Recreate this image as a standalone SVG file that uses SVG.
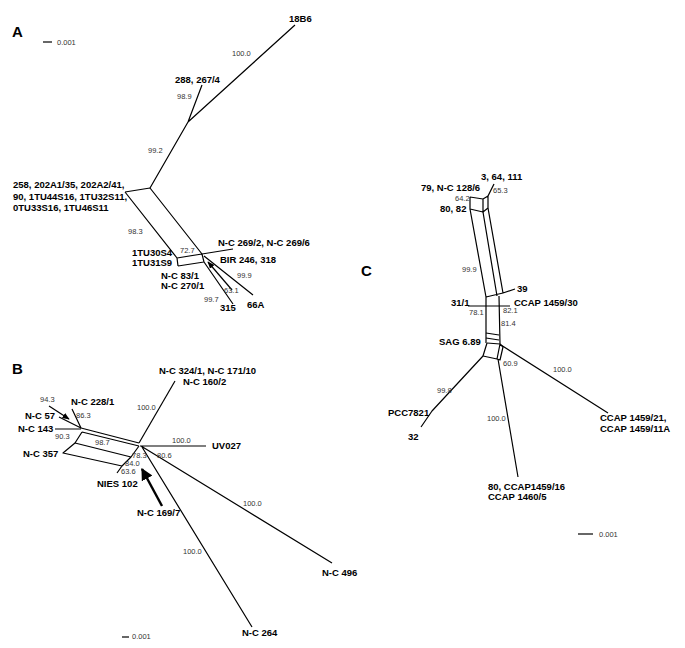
<svg xmlns="http://www.w3.org/2000/svg" width="685" height="648" viewBox="0 0 685 648">
<style>
.e{stroke:#000;stroke-width:1.2;fill:none;stroke-linejoin:round}
.lb{font-family:"Liberation Sans",Arial,sans-serif;font-weight:bold;font-size:9.5px;fill:#000}
.n{font-family:"Liberation Sans",Arial,sans-serif;font-size:7.5px;fill:#333}
.p{font-family:"Liberation Sans",Arial,sans-serif;font-weight:bold;font-size:15px;fill:#000}
</style>
<defs>
<marker id="ah" viewBox="0 0 10 10" refX="9" refY="5" markerWidth="6" markerHeight="6" orient="auto"><path d="M0,1 L10,5 L0,9 z" fill="#000"/></marker>
<marker id="ahb" viewBox="0 0 10 10" refX="9" refY="5" markerWidth="5" markerHeight="5" orient="auto"><path d="M0,0 L10,5 L0,10 z" fill="#000"/></marker>
</defs>
<rect width="685" height="648" fill="#fff"/>

<!-- Panel A -->
<g id="panelA">
<text class="p" x="12" y="37">A</text>
<g id="scaleA"><line class="e" x1="43" y1="42" x2="52" y2="42"/><text class="n" x="57" y="45">0.001</text></g>
<g id="connectorsA">
<path class="e" d="M295,25 L188,122 M202,85 L188,122 M188,122 L150,188"/>
<path class="e" d="M150,188 L125,192 M150,188 L202,254 M125,192 L177,258 M177,258 L202,254 M177,258 L178,266 M178,266 L204,262 M202,254 L204,262"/>
<path class="e" d="M202,254 L233,249 M204,256 L253,295 M204,262 L233,304"/>
<line class="e" x1="232" y1="290" x2="208" y2="262" marker-end="url(#ah)"/>
</g>
<g id="n18B6"><text class="lb" x="289" y="22">18B6</text><text class="n" x="232" y="56">100.0</text></g>
<g id="n288"><text class="lb" x="175" y="83">288, 267/4</text><text class="n" x="177" y="99">98.9</text></g>
<text class="n" x="148" y="153">99.2</text>
<g id="n258"><text class="lb" x="13" y="188">258, 202A1/35, 202A2/41,</text><text class="lb" x="13" y="199.5">90, 1TU44S16, 1TU32S11,</text><text class="lb" x="13" y="210.5">0TU33S16, 1TU46S11</text></g>
<text class="n" x="128" y="234">98.3</text>
<g id="n1TU"><text class="lb" x="132" y="256">1TU30S4</text><text class="lb" x="132" y="266">1TU31S9</text></g>
<text class="n" x="180" y="253">72.7</text>
<g id="nNC269"><text class="lb" x="218" y="246">N-C 269/2, N-C 269/6</text></g>
<g id="nBIR"><text class="lb" x="220" y="263">BIR 246, 318</text></g>
<g id="nNC83"><text class="lb" x="161" y="279">N-C 83/1</text><text class="lb" x="161" y="289">N-C 270/1</text></g>
<text class="n" x="237" y="278">99.9</text>
<text class="n" x="224" y="293">63.1</text>
<text class="n" x="204" y="302">99.7</text>
<g id="n315"><text class="lb" x="220" y="311">315</text></g>
<g id="n66A"><text class="lb" x="247" y="308">66A</text></g>
</g>

<!-- Panel B -->
<g id="panelB">
<text class="p" x="12" y="374">B</text>
<g id="connectorsB">
<path class="e" d="M175,381 L139,443"/>
<line class="e" x1="49" y1="406" x2="69" y2="419" marker-end="url(#ah)"/>
<path class="e" d="M72,409 L81,428 M59,417 L81,428 M55,429 L81,429"/>
<path class="e" d="M81,428 L139,443 M82,432 L139,446 M82,432 L75,443 M75,443 L131,457 L139,446 M75,443 L63,453 L122,466 L131,457 M122,466 L117,473"/>
<path class="e" d="M140,446 L206,446 M141,446 L332,563 M142,447 L252,627"/>
<line x1="162" y1="506" x2="142" y2="469" stroke="#000" stroke-width="2.4" marker-end="url(#ahb)"/>
</g>
<g id="nNC324"><text class="lb" x="159" y="374">N-C 324/1, N-C 171/10</text><text class="lb" x="183" y="385">N-C 160/2</text><text class="n" x="137" y="410">100.0</text></g>
<text class="n" x="40" y="402">94.3</text>
<g id="nNC228"><text class="lb" x="71" y="405">N-C 228/1</text><text class="n" x="76" y="418">86.3</text></g>
<g id="nNC57"><text class="lb" x="25" y="419">N-C 57</text></g>
<g id="nNC143"><text class="lb" x="18" y="432">N-C 143</text><text class="n" x="55" y="439">90.3</text></g>
<text class="n" x="95" y="445">98.7</text>
<g id="nUV027"><text class="lb" x="212" y="449">UV027</text><text class="n" x="172" y="443">100.0</text></g>
<g id="nNC357"><text class="lb" x="23" y="457">N-C 357</text></g>
<text class="n" x="132" y="458">78.3</text>
<text class="n" x="157" y="458">80.6</text>
<text class="n" x="125" y="466">84.0</text>
<text class="n" x="121" y="474">63.6</text>
<g id="nNIES"><text class="lb" x="97" y="487">NIES 102</text></g>
<g id="nNC169"><text class="lb" x="137" y="516">N-C 169/7</text></g>
<g id="nNC496"><text class="n" x="243" y="506">100.0</text><text class="lb" x="322" y="576">N-C 496</text></g>
<g id="nNC264"><text class="n" x="183" y="554">100.0</text><text class="lb" x="242" y="636">N-C 264</text></g>
<g id="scaleB"><line class="e" x1="122" y1="637" x2="129" y2="637"/><text class="n" x="132" y="639">0.001</text></g>
</g>

<!-- Panel C -->
<g id="panelC">
<text class="p" x="361" y="276">C</text>
<g id="connectorsC">
<path class="e" d="M494,184 L488,196"/>
<path class="e" d="M470,197 L483,199 L488,196 M470,197 L470,209 M483,199 L483,212 M488,196 L488,208 M470,209 L483,212 L488,208"/>
<path class="e" d="M470,209 L486,297 M483,212 L497,296 M488,208 L503,293 M486,297 L503,293 L515,289"/>
<path class="e" d="M486,297 L486,343 M499,296 L500,344 M468,306 L510,306"/>
<path class="e" d="M486,333 L499,335 M486,338 L499,340 M487,343 L500,344"/>
<path class="e" d="M487,343 L483,356 L497,359 L500,344 M500,344 L503,347 L500,360 L497,359"/>
<path class="e" d="M501,345 L608,413 M483,356 L432,411 L421,427 M498,359 L518,477"/>
</g>
<g id="n3"><text class="lb" x="481" y="180">3, 64, 111</text><text class="n" x="493" y="193">65.3</text></g>
<g id="n79"><text class="lb" x="421" y="191">79, N-C 128/6</text><text class="n" x="455" y="201">64.2</text></g>
<g id="n80"><text class="lb" x="440" y="212">80, 82</text></g>
<text class="n" x="462" y="272">99.9</text>
<g id="n39"><text class="lb" x="517" y="292">39</text></g>
<g id="n31"><text class="lb" x="451" y="306">31/1</text><text class="n" x="469" y="315">78.1</text></g>
<g id="nCCAP30"><text class="lb" x="514" y="306">CCAP 1459/30</text><text class="n" x="503" y="313">82.1</text></g>
<text class="n" x="501" y="326">81.4</text>
<g id="nSAG"><text class="lb" x="439" y="345">SAG 6.89</text></g>
<text class="n" x="503" y="366">60.9</text>
<g id="nCCAP21"><text class="n" x="553" y="372">100.0</text><text class="lb" x="600" y="421">CCAP 1459/21,</text><text class="lb" x="600" y="432">CCAP 1459/11A</text></g>
<g id="nPCC"><text class="n" x="437" y="393">99.8</text><text class="lb" x="388" y="416">PCC7821</text><text class="lb" x="408" y="440">32</text></g>
<g id="nCCAP16"><text class="n" x="487" y="421">100.0</text><text class="lb" x="488" y="490">80, CCAP1459/16</text><text class="lb" x="488" y="500">CCAP 1460/5</text></g>
<g id="scaleC"><line class="e" x1="578" y1="534" x2="593" y2="534"/><text class="n" x="599" y="537">0.001</text></g>
</g>
</svg>
